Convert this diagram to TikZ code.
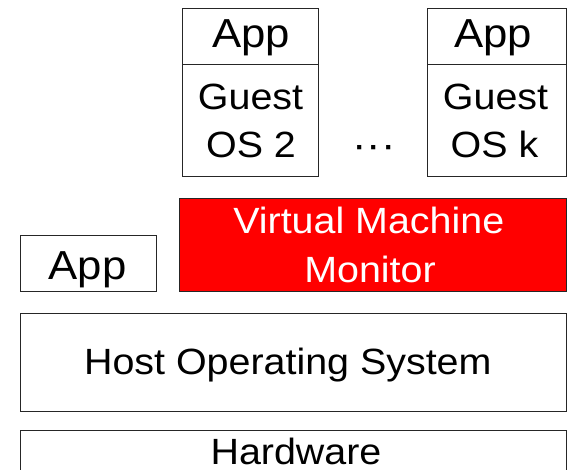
\documentclass[tikz,border=0pt]{standalone}
\usepackage{fontspec}
\setmainfont{Liberation Sans}[FakeStretch=1.08]
\begin{document}
\begin{tikzpicture}[x=1pt,y=-1pt,
  box/.style={draw=black!85,line width=0.9pt,inner sep=0pt,outer sep=0pt},
  txt/.style={inner sep=0pt,outer sep=0pt,anchor=base,font=\fontsize{36.5}{48}\selectfont},
  apptxt/.style={txt,font=\fontsize{40.5}{48}\selectfont}]
\useasboundingbox (0,0) rectangle (569,470);
% boxes
\draw[box] (182,8) rectangle (318,64);
\draw[box] (182,64) rectangle (318,176);
\draw[box] (427,8) rectangle (566,64);
\draw[box] (427,64) rectangle (566,176);
\draw[box] (20.5,235.5) rectangle (156.5,291.5);
\draw[box,fill=red] (179.5,198.5) rectangle (566,291.5);
\draw[box] (20.5,313.5) rectangle (566,411.5);
\draw[box] (20.5,430.5) rectangle (566,490);
% texts
\node[apptxt] (app1) at (251.3,48) {App};
\node[txt] (g1a) at (250.5,110) {Guest};
\node[txt] (g1b) at (251,158) {OS 2};
\node[apptxt] (app2) at (493,48) {App};
\node[txt] (g2a) at (495.5,110) {Guest};
\node[txt] (g2b) at (494.5,158) {OS k};
\node[txt,font=\fontsize{40}{48}\selectfont] (dots) at (374,159) {···};
\node[apptxt] (app0) at (87.5,279) {App};
\node[txt,text=white] (vmm1) at (368.8,233.3) {Virtual Machine};
\node[txt,text=white] (vmm2) at (370,282.7) {Monitor};
\node[txt] (host) at (287.8,374.3) {Host Operating System};
\node[txt] (hw) at (296,464.3) {Hardware};
\end{tikzpicture}
\end{document}
